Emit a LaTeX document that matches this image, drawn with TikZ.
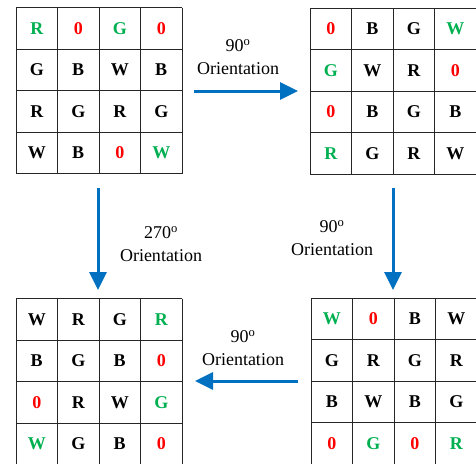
\documentclass[tikz,border=0pt]{standalone}
\usepackage{fontspec}
\setmainfont{Liberation Serif}
\usetikzlibrary{arrows.meta}
\definecolor{cg}{RGB}{0,176,80}
\definecolor{cr}{RGB}{255,0,0}
\definecolor{ck}{RGB}{0,0,0}
\definecolor{ab}{RGB}{0,112,192}
\tikzset{
  x=1pt,y=-1pt,
  gridline/.style={draw=black!85,line width=1pt},
  cell/.style={font=\fontsize{18}{20}\selectfont\bfseries,inner sep=0pt},
  arr/.style={draw=ab,line width=3pt,-{Triangle[length=18pt,width=17pt]}},
  lbl/.style={font=\fontsize{18}{22.5}\selectfont,align=center,inner sep=0pt}
}
\newcommand\mygrid[4]{%
  \node[minimum size=166pt,inner sep=0pt,anchor=north west,draw=none] (#1) at (#2,#3) {};
  \foreach \k in {0,...,4}{
    \draw[gridline] ($(#2,#3)+(\k*41.5,0)$) -- ($(#2,#3)+(\k*41.5,166)$);
    \draw[gridline] ($(#2,#3)+(0,\k*41.5)$) -- ($(#2,#3)+(166,\k*41.5)$);
  }
  \foreach \c/\t [count=\i from 0] in {#4}{
    \pgfmathtruncatemacro\row{int(\i/4)}
    \pgfmathtruncatemacro\col{mod(\i,4)}
    \node[cell,text=\c] (#1-\i) at ($(#2,#3)+(\col*41.5+20.75,\row*41.5+20.75)$) {\t};
  }
}
\usetikzlibrary{calc}
\begin{document}
\begin{tikzpicture}
\useasboundingbox (0,0) rectangle (476,463);
\mygrid{gTL}{16}{7.5}{cg/R,cr/0,cg/G,cr/0, ck/G,ck/B,ck/W,ck/B, ck/R,ck/G,ck/R,ck/G, ck/W,ck/B,cr/0,cg/W}
\mygrid{gTR}{310}{8}{cr/0,ck/B,ck/G,cg/W, cg/G,ck/W,ck/R,cr/0, cr/0,ck/B,ck/G,ck/B, cg/R,ck/G,ck/R,ck/W}
\mygrid{gBL}{16}{298.5}{ck/W,ck/R,ck/G,cg/R, ck/B,ck/G,ck/B,cr/0, cr/0,ck/R,ck/W,cg/G, cg/W,ck/G,ck/B,cr/0}
\mygrid{gBR}{311}{298}{cg/W,cr/0,ck/B,ck/W, ck/G,ck/R,ck/G,ck/R, ck/B,ck/W,ck/B,ck/G, cr/0,cg/G,cr/0,cg/R}
\coordinate (a1s) at (194,91);
\coordinate (a1e) at (298,91);
\coordinate (a2s) at (98,188);
\coordinate (a2e) at (98,290);
\coordinate (a3s) at (393,188);
\coordinate (a3e) at (393,290);
\coordinate (a4s) at (298,381);
\coordinate (a4e) at (195,381);
\draw[arr] (a1s) -- (a1e);
\draw[arr] (a2s) -- (a2e);
\draw[arr] (a3s) -- (a3e);
\draw[arr] (a4s) -- (a4e);
\node[lbl] (l1) at (238,57) {90\textsuperscript{o}\\Orientation};
\node[lbl] (l2) at (161,244) {270\textsuperscript{o}\\Orientation};
\node[lbl] (l3) at (332,238) {90\textsuperscript{o}\\Orientation};
\node[lbl] (l4) at (243,348) {90\textsuperscript{o}\\Orientation};
\end{tikzpicture}
\end{document}
